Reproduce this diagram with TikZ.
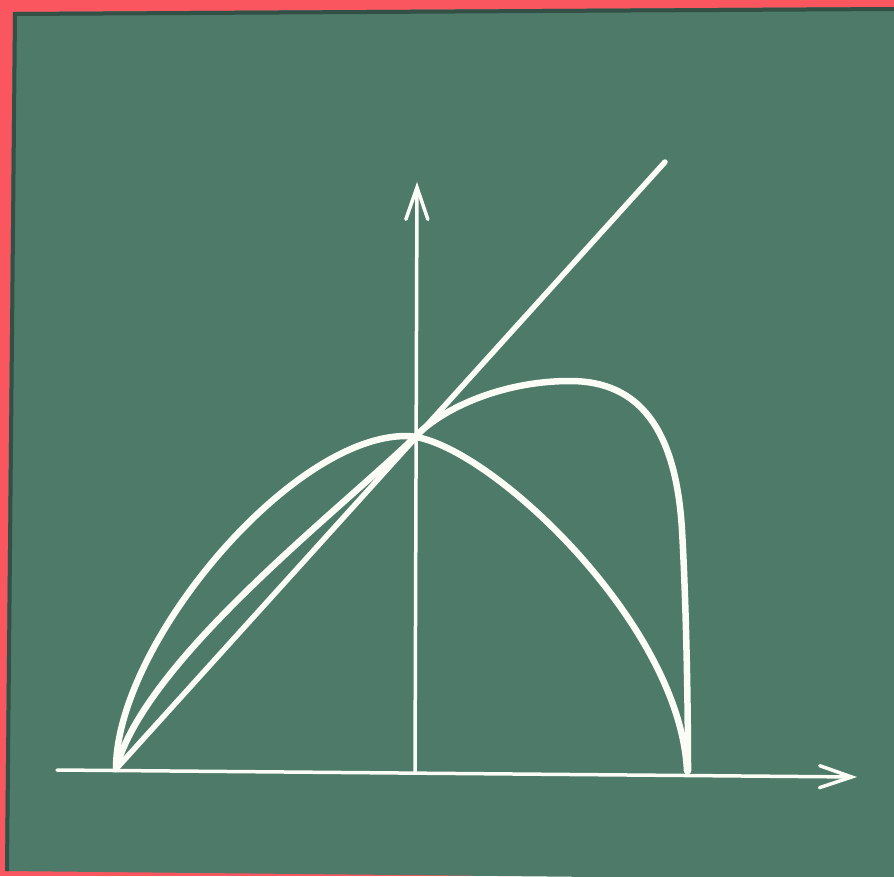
\documentclass[tikz,border=0pt]{standalone}
\usetikzlibrary{arrows.meta}
\definecolor{board}{RGB}{78,122,106}
\definecolor{boardedge}{RGB}{50,80,70}
\definecolor{frame}{RGB}{249,86,96}
\definecolor{chalk}{RGB}{252,252,246}
\begin{document}
\begin{tikzpicture}[x=1pt,y=-1pt,
  axis/.style={chalk, line width=3.5pt, line cap=round},
  diag/.style={chalk, line width=5.5pt, line cap=round},
  curve/.style={chalk, line width=6.5pt, line cap=round, line join=round},
  tip/.style={-{Straight Barb[length=32pt,width=22pt,line cap=round]}}]
\useasboundingbox (0,0) rectangle (894,876);
% frame and board
\fill[frame] (0,0) rectangle (894,876);
\fill[board] (13,12) -- (894,7) -- (894,880) -- (5,871) -- cycle;
\draw[boardedge, line width=4pt] (7,871) -- (15,14) -- (894,9);
% key points
\coordinate (B) at (116,769);
\coordinate (C) at (415,437);
\coordinate (D) at (665,162);
\coordinate (P) at (406,436);
\coordinate (F) at (687,771);
\coordinate (T) at (570,381);
\coordinate (M) at (682,530);
\coordinate (G) at (688,771);
\coordinate (xs) at (57,770);
\coordinate (xe) at (857,777);
\coordinate (ys) at (415,772);
\coordinate (ye) at (417,182);
% axes
\draw[axis,tip] (xs) -- (xe);
\draw[axis,tip] (ys) -- (ye);
% diagonal
\draw[diag] (B) -- (D);
% outer hump curve
\draw[curve] (B) .. controls (116,645) and (290,436) .. (P)
                 .. controls (480,436) and (680,620) .. (F);
% S-shaped curve
\draw[curve] (B) .. controls (145,660) and (340,510) .. (C)
                 .. controls (440,410) and (500,381) .. (T)
                 .. controls (640,381) and (676,430) .. (M)
                 .. controls (686,600) and (688,700) .. (G);
\end{tikzpicture}
\end{document}
